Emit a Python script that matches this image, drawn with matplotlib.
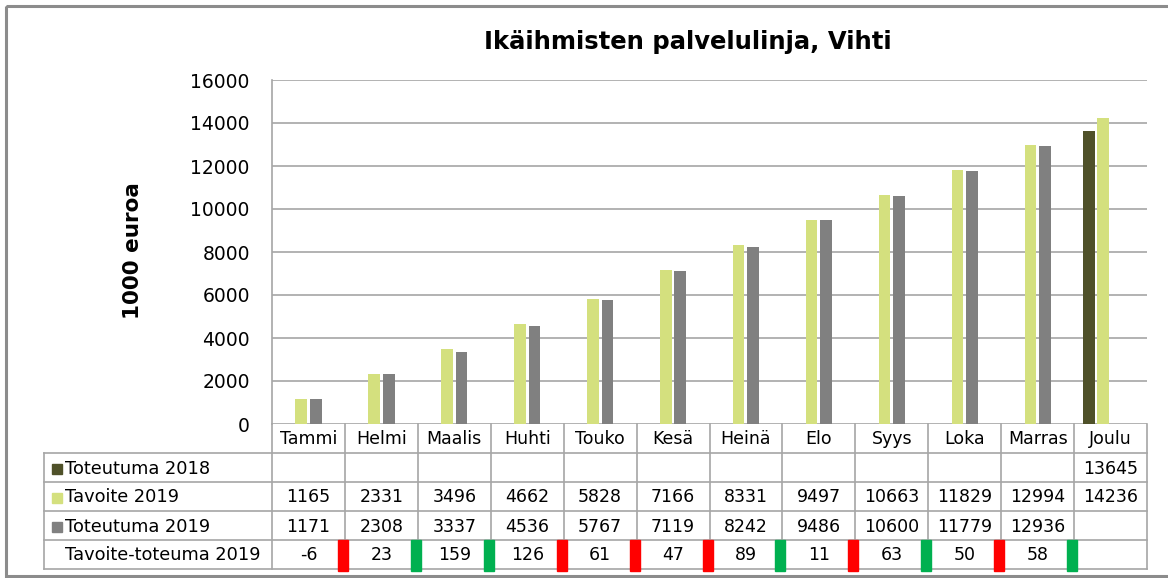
import numpy as np
import matplotlib.pyplot as plt
from matplotlib.patches import Rectangle

# Kuukausittaiset kumulatiiviset luvut (1000 euroa)
kuukaudet = ['Tammi', 'Helmi', 'Maalis', 'Huhti', 'Touko', 'Kesä',
             'Heinä', 'Elo', 'Syys', 'Loka', 'Marras', 'Joulu']
toteutuma_2018 = [None] * 11 + [13645]
tavoite_2019 = [1165, 2331, 3496, 4662, 5828, 7166, 8331, 9497, 10663, 11829, 12994, 14236]
toteutuma_2019 = [1171, 2308, 3337, 4536, 5767, 7119, 8242, 9486, 10600, 11779, 12936, None]
erotus_2019 = [-6, 23, 159, 126, 61, 47, 89, 11, 63, 50, 58, None]
merkit = ['punainen', 'vihreä', 'vihreä', 'punainen', 'punainen', 'punainen',
          'vihreä', 'punainen', 'vihreä', 'punainen', 'vihreä']

TUMMA = '#4F5129'
VAALEA = '#D4E07E'
HARMAA = '#808080'
VIIVA = '#A6A6A6'
MERKKIVARI = {'punainen': '#FF0000', 'vihreä': '#00B050'}

W, H = 1168, 578
X0, X1, Y0, Y1 = 272, 1147, 80, 424

fig = plt.figure(figsize=(W / 100, H / 100), dpi=100)
ax = fig.add_axes([X0 / W, 1 - Y1 / H, (X1 - X0) / W, (Y1 - Y0) / H])

x = np.arange(len(kuukaudet))
leveys = 0.16


def piirra(arvot, siirto, vari):
    xs = [xi + siirto for xi, v in zip(x, arvot) if v is not None]
    ys = [v for v in arvot if v is not None]
    ax.bar(xs, ys, leveys, color=vari, zorder=3)


piirra(toteutuma_2018, -0.3, TUMMA)
piirra(tavoite_2019, -0.1, VAALEA)
piirra(toteutuma_2019, 0.1, HARMAA)

ax.set_xlim(-0.5, 11.5)
ax.set_ylim(0, 16000)
ax.set_yticks(np.arange(0, 16001, 2000))
ax.set_xticks([])
ax.tick_params(axis='y', length=0, labelsize=13.5, pad=16)
ax.grid(axis='y', color=VIIVA, lw=1.2, zorder=0)
for s in ['top', 'right', 'bottom']:
    ax.spines[s].set_visible(False)
ax.spines['left'].set_color(VIIVA)
ax.spines['left'].set_linewidth(1.2)

fig.text(688 / W, 1 - 42 / H, 'Ikäihmisten palvelulinja, Vihti',
         ha='center', va='center', fontsize=17.5, fontweight='bold')
fig.text(133 / W, 1 - 251 / H, '1000 euroa', rotation=90,
         ha='center', va='center', fontsize=15.5, fontweight='bold')

# Taulukko kuvan pikselikoordinaateissa
tab = fig.add_axes([0, 0, 1, 1])
tab.set_xlim(0, W)
tab.set_ylim(H, 0)
tab.axis('off')
tab.patch.set_visible(False)

sarakkeet = X0 + np.arange(13) * (X1 - X0) / 12
rivit = [424, 453, 482, 511, 540, 569]
TX = 44

for xe in sarakkeet:
    tab.plot([xe, xe], [rivit[0], rivit[-1]], color=VIIVA, lw=1.2)
tab.plot([TX, TX], [rivit[1], rivit[-1]], color=VIIVA, lw=1.2)
for ye in rivit[1:]:
    tab.plot([TX, X1], [ye, ye], color=VIIVA, lw=1.2)

keskit = (sarakkeet[:-1] + sarakkeet[1:]) / 2
for cx, nimi in zip(keskit, kuukaudet):
    tab.text(cx, (rivit[0] + rivit[1]) / 2 + 1, nimi, ha='center', va='center', fontsize=12.5)

rivitiedot = [('Toteutuma 2018', toteutuma_2018, TUMMA),
              ('Tavoite 2019', tavoite_2019, VAALEA),
              ('Toteutuma 2019', toteutuma_2019, HARMAA),
              ('Tavoite-toteuma 2019', erotus_2019, None)]
for r, (nimi, arvot, vari) in enumerate(rivitiedot):
    yc = (rivit[r + 1] + rivit[r + 2]) / 2 + 1
    if vari is not None:
        tab.add_patch(Rectangle((52, yc - 5), 10, 10, color=vari))
    tab.text(65, yc, nimi, ha='left', va='center', fontsize=12.8)
    for cx, v in zip(keskit, arvot):
        if v is not None:
            tab.text(cx, yc, str(v), ha='center', va='center', fontsize=12.5)

for i, m in enumerate(merkit):
    tab.add_patch(Rectangle((sarakkeet[i + 1] - 7, rivit[4]), 10, 31,
                            color=MERKKIVARI[m], zorder=4))

# Ulkokehys
tab.add_patch(Rectangle((6, 6), W + 10, 570, fill=False, edgecolor='#8C8C8C', lw=2.2))

fig.savefig('out.png', dpi=100)
